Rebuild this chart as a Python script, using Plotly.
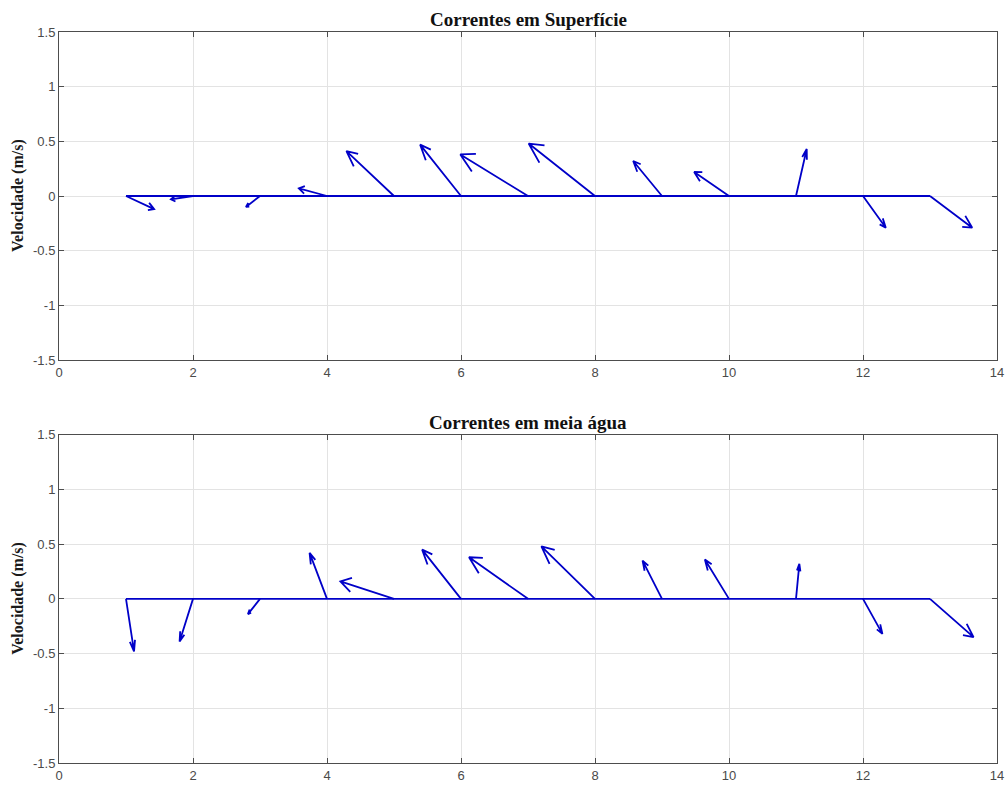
import plotly.graph_objects as go

# Station index (1..13) and velocity components
stations = list(range(1, 14))
u_surface = [0.42, -0.33, -0.21, -0.42, -0.71, -0.61, -1.01, -0.99, -0.43, -0.52, 0.16, 0.34, 0.63]
v_surface = [-0.12, -0.03, -0.10, 0.07, 0.41, 0.47, 0.38, 0.48, 0.32, 0.22, 0.43, -0.29, -0.29]
u_mid = [0.12, -0.20, -0.18, -0.26, -0.80, -0.58, -0.88, -0.80, -0.29, -0.36, 0.05, 0.29, 0.65]
v_mid = [-0.48, -0.39, -0.14, 0.42, 0.16, 0.45, 0.38, 0.48, 0.35, 0.36, 0.32, -0.32, -0.35]

titles = ["Correntes em Superfície", "Correntes em meia água"]
y_label = "Velocidade (m/s)"
x_ticks = [0, 2, 4, 6, 8, 10, 12, 14]
y_ticks = [-1.5, -1, -0.5, 0, 0.5, 1, 1.5]
y_ticktext = ["-1.5", "-1", "-0.5", "0", "0.5", "1", "1.5"]

LINE = "#0000c8"
AX = "#4d4d4d"
TXT = "#4a4a4a"

# MATLAB feather arrow shape (in units of the vector)
shape_x = [0, 1, 0.8, 1, 0.8]
shape_y = [0, 0, 0.08, 0, -0.08]


def feather(xs, us, vs):
    px, py = [], []
    for k, u, v in zip(xs, us, vs):
        for a, b in zip(shape_x, shape_y):
            px.append(k + u * a - v * b)
            py.append(v * a + u * b)
        px.append(None)
        py.append(None)
    px += [xs[0], xs[-1]]
    py += [0, 0]
    return px, py


fig = go.Figure()

domains_y = [[0.5513, 1.0], [0.0, 0.4491]]
data = [(u_surface, v_surface), (u_mid, v_mid)]

for i, (us, vs) in enumerate(data):
    px, py = feather(stations, us, vs)
    xa = "x" if i == 0 else "x2"
    ya = "y" if i == 0 else "y2"
    fig.add_trace(go.Scatter(x=px, y=py, mode="lines", xaxis=xa, yaxis=ya,
                             line=dict(color=LINE, width=1.8), showlegend=False,
                             hoverinfo="skip"))

axis_common = dict(showgrid=True, gridcolor="#e3e3e3", gridwidth=1,
                   zeroline=False, showline=True, linecolor=AX, linewidth=1,
                   mirror="allticks", ticks="inside", ticklen=5, tickcolor=AX,
                   automargin=False,
                   tickfont=dict(family="Liberation Sans, Arial", size=13, color=TXT))

layout = dict(
    width=1008, height=785,
    paper_bgcolor="white", plot_bgcolor="white",
    margin=dict(l=59, r=11, t=32, b=22, autoexpand=False),
    showlegend=False,
)

for i in range(2):
    sx = "" if i == 0 else "2"
    layout["xaxis" + sx] = dict(domain=[0, 1], range=[0, 14], tickvals=x_ticks,
                                anchor="y" + sx, **axis_common)
    layout["yaxis" + sx] = dict(domain=domains_y[i], range=[-1.5, 1.5], tickvals=y_ticks,
                                ticktext=y_ticktext, anchor="x" + sx, **axis_common)

fig.update_layout(**layout)

for i in range(2):
    fig.add_annotation(text="<b>" + titles[i] + "</b>", xref="paper", yref="paper",
                       x=0.5, y=domains_y[i][1], xanchor="center", yanchor="bottom",
                       showarrow=False, yshift=0,
                       font=dict(family="Liberation Serif, Times New Roman", size=19, color="#111111"))
    fig.add_annotation(text="<b>" + y_label + "</b>", xref="paper", yref="paper",
                       x=(18 - 59) / 938, y=sum(domains_y[i]) / 2, xanchor="center", yanchor="middle",
                       textangle=-90, showarrow=False,
                       font=dict(family="Liberation Serif, Times New Roman", size=16, color="#1a1a1a"))

fig.write_html("out.html", config={"displayModeBar": False},
               post_script="document.body.style.margin='0';document.body.style.overflow='hidden';")
